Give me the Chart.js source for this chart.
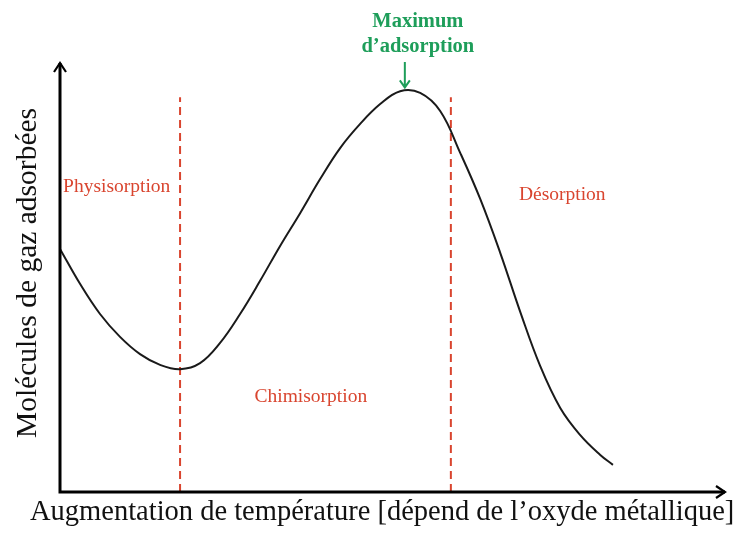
<!DOCTYPE html>
<html>
<head>
<meta charset="utf-8">
<script src="https://cdn.jsdelivr.net/npm/chart.js@4.4.0/dist/chart.umd.min.js"></script>
<style>
  html, body { margin: 0; padding: 0; background: #fff; }
  #wrap { width: 733px; height: 540px; }
</style>
</head>
<body>
<div id="wrap"><canvas id="chart" width="733" height="540"></canvas></div>
<script>
// temperature (arbitrary units) vs molecules adsorbed (arbitrary units)
const temperature = [0, 3, 6, 9, 12, 15, 18, 21, 24, 27, 30, 33, 36, 39, 42, 45, 48, 51, 54, 57,
  60, 63, 66, 69, 72, 75, 78, 81, 82.9];
const adsorbed = [56.4, 48.3, 41.3, 36.0, 32.0, 29.5, 28.5, 29.9, 34.6, 41.3, 49.0, 57.1, 64.7, 72.6, 79.8,
  85.4, 90.0, 93.0, 92.6, 88.4, 78.7, 68.0, 55.5, 41.8, 29.2, 19.5, 13.2, 8.6, 6.3];

// region boundaries (dashed lines)
const boundaries = [18, 58.6];
const boundaryTop = 91.6;

// region labels [text, x, y]
const regionLabels = [
  ['Physisorption', 8.5, 70.8],
  ['Chimisorption', 37.6, 22.0],
  ['Désorption', 75.3, 68.9]
];
const peakLabel = ['Maximum', 'd\u2019adsorption'];
const peak = { x: 51.7, y: 93.4 };

const points = temperature.map((t, i) => ({ x: t, y: adsorbed[i] }));

const red = '#d9452f';
const green = '#1e9e5a';

const boundaryDatasets = boundaries.map((b) => ({
  data: [{ x: b, y: 0 }, { x: b, y: boundaryTop }],
  showLine: true,
  borderColor: red,
  borderWidth: 2,
  borderDash: [8, 5],
  pointRadius: 0,
}));

const decorations = {
  id: 'decorations',
  afterDraw(chart) {
    const { ctx, chartArea, scales } = chart;
    const xs = scales.x, ys = scales.y;
    const left = chartArea.left, bottom = chartArea.bottom;
    ctx.save();

    // axes with arrows
    ctx.strokeStyle = '#000';
    ctx.lineWidth = 3;
    ctx.beginPath();
    ctx.moveTo(left, chartArea.top + 2);
    ctx.lineTo(left, bottom);
    ctx.lineTo(chartArea.right - 2, bottom);
    ctx.stroke();
    ctx.lineWidth = 2.2;
    ctx.beginPath();
    ctx.moveTo(left - 6, chartArea.top + 11);
    ctx.lineTo(left, chartArea.top + 2);
    ctx.lineTo(left + 6, chartArea.top + 11);
    ctx.moveTo(chartArea.right - 11, bottom - 6);
    ctx.lineTo(chartArea.right - 2, bottom);
    ctx.lineTo(chartArea.right - 11, bottom + 6);
    ctx.stroke();

    // axis titles
    ctx.fillStyle = '#111';
    ctx.font = '28.5px "Liberation Serif", "DejaVu Serif", serif';
    ctx.textBaseline = 'alphabetic';
    ctx.textAlign = 'left';
    ctx.fillText('Augmentation de température [dépend de l\u2019oxyde métallique]', 30, 520);
    ctx.save();
    ctx.translate(36, 273);
    ctx.rotate(-Math.PI / 2);
    ctx.textAlign = 'center';
    ctx.font = '29.5px "Liberation Serif", "DejaVu Serif", serif';
    ctx.fillText('Molécules de gaz adsorbées', 0, 0);
    ctx.restore();

    // region labels
    ctx.fillStyle = red;
    ctx.font = '19.5px "Liberation Serif", serif';
    ctx.textAlign = 'center';
    ctx.textBaseline = 'middle';
    regionLabels.forEach(([txt, x, y]) => {
      ctx.fillText(txt, xs.getPixelForValue(x), ys.getPixelForValue(y));
    });

    // peak annotation
    const px = xs.getPixelForValue(peak.x);
    const py = ys.getPixelForValue(peak.y);
    ctx.fillStyle = green;
    ctx.font = 'bold 20.5px "Liberation Serif", serif';
    ctx.fillText(peakLabel[0], px + 13, 22);
    ctx.fillText(peakLabel[1], px + 13, 47);
    ctx.strokeStyle = green;
    ctx.lineWidth = 2;
    ctx.beginPath();
    ctx.moveTo(px, 62);
    ctx.lineTo(px, py - 2);
    ctx.moveTo(px - 5, py - 9);
    ctx.lineTo(px, py - 2);
    ctx.lineTo(px + 5, py - 9);
    ctx.stroke();
    ctx.restore();
  }
};

new Chart(document.getElementById('chart'), {
  type: 'scatter',
  data: {
    datasets: [
      {
        data: points,
        showLine: true,
        borderColor: '#1a1a1a',
        borderWidth: 2,
        pointRadius: 0,
        tension: 0.4,
      },
      ...boundaryDatasets,
    ],
  },
  options: {
    responsive: false,
    animation: false,
    layout: { padding: { left: 60, right: 6, top: 61, bottom: 48 } },
    scales: {
      x: { type: 'linear', min: 0, max: 100, display: false },
      y: { type: 'linear', min: 0, max: 100, display: false },
    },
    plugins: { legend: { display: false }, tooltip: { enabled: false } },
  },
  plugins: [decorations],
});
</script>
</body>
</html>
